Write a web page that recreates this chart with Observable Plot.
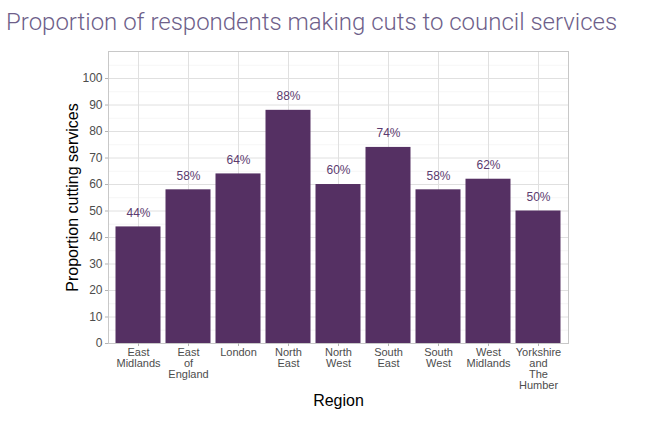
<!DOCTYPE html>
<html>
<head>
<meta charset="utf-8">
<script src="https://cdn.jsdelivr.net/npm/d3@7"></script>
<script src="https://cdn.jsdelivr.net/npm/@observablehq/plot@0.6"></script>
<style>
  html, body { margin: 0; padding: 0; background: #fff; }
  #title { font-family: Roboto, "Liberation Sans", sans-serif; font-weight: 300; font-size: 24px; color: #6e5f8a; height: 40px; line-height: 44px; padding-left: 6px; white-space: nowrap; overflow: hidden; }
  svg { display: block; }
</style>
</head>
<body>
<div id="title">Proportion of respondents making cuts to council services</div>
<div id="chart"></div>
<script>
const regions = ["East Midlands", "East of England", "London", "North East", "North West", "South East", "South West", "West Midlands", "Yorkshire and The Humber"];
const tickLabels = ["East\nMidlands", "East\nof\nEngland", "London", "North\nEast", "North\nWest", "South\nEast", "South\nWest", "West\nMidlands", "Yorkshire\nand\nThe\nHumber"];
const values = [44, 58, 64, 88, 60, 74, 58, 62, 50];
const yTicks = [0, 10, 20, 30, 40, 50, 60, 70, 80, 90, 100];
const yMinor = [5, 15, 25, 35, 45, 55, 65, 75, 85, 95, 105];

const data = regions.map((r, i) => ({region: r, value: values[i]}));
const labelMap = new Map(regions.map((r, i) => [r, tickLabels[i]]));

const plot = Plot.plot({
  width: 647,
  height: 387,
  marginTop: 11,
  marginBottom: 84,
  marginLeft: 108,
  marginRight: 79,
  style: {fontFamily: "'Liberation Sans', Arial, sans-serif", background: "#fff"},
  x: {domain: regions, paddingInner: 0.1, paddingOuter: 0.15, round: false, label: null},
  y: {domain: [0, 110.2], label: null},
  marks: [
    Plot.gridY(yMinor, {stroke: "#efefef", strokeWidth: 0.6, strokeOpacity: 1}),
    Plot.gridY(yTicks, {stroke: "#e0e0e0", strokeWidth: 1, strokeOpacity: 1}),
    Plot.gridX(regions, {stroke: "#e0e0e0", strokeWidth: 1, strokeOpacity: 1}),
    Plot.barY(data, {x: "region", y: "value", fill: "#553063"}),
    Plot.text(data, {x: "region", y: "value", text: d => d.value + "%", dy: -14, fill: "#5c3b6f", fontSize: 12}),
    Plot.frame({stroke: "#c8c8c8"}),
    Plot.axisY(yTicks, {tickSize: 3, stroke: "#b3b3b3", fill: "#4d4d4d", fontSize: 12, tickPadding: 3, label: null}),
    Plot.axisX({tickSize: 3, stroke: "#b3b3b3", fill: "#4d4d4d", fontSize: 11, tickPadding: 2, label: null, tickFormat: d => labelMap.get(d), lineHeight: 1}),
    Plot.text(["Region"], {frameAnchor: "bottom", lineAnchor: "middle", dy: 57, fontSize: 16, fill: "#000"}),
    Plot.text(["Proportion cutting services"], {frameAnchor: "left", textAnchor: "middle", lineAnchor: "middle", dx: -36, rotate: -90, fontSize: 16, fill: "#000"})
  ]
});
document.getElementById("chart").appendChild(plot);
</script>
</body>
</html>
